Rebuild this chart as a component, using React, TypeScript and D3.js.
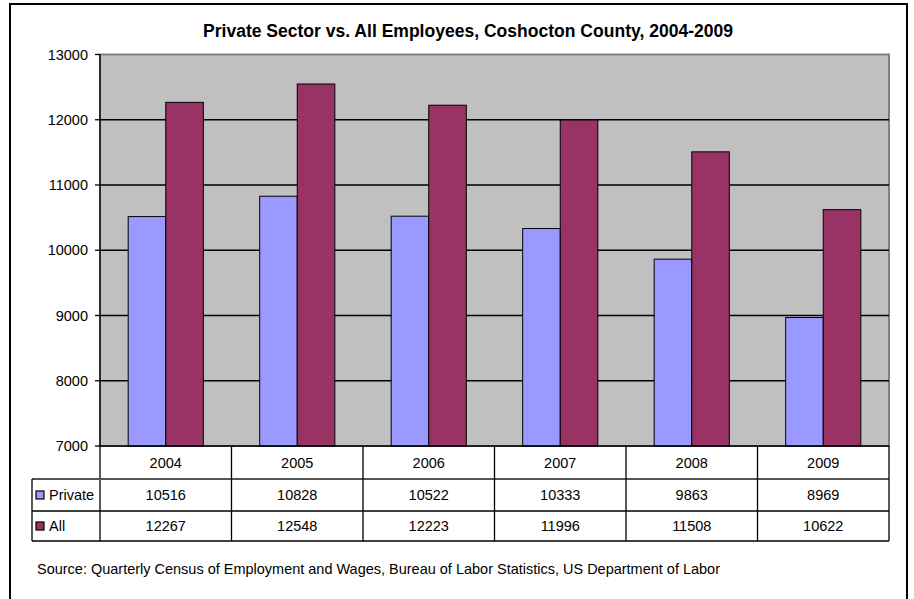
import React from "react";
import * as d3 from "d3";

const years = ["2004", "2005", "2006", "2007", "2008", "2009"];
const privateValues = [10516, 10828, 10522, 10333, 9863, 8969];
const allValues = [12267, 12548, 12223, 11996, 11508, 10622];
const yTicks = [7000, 8000, 9000, 10000, 11000, 12000, 13000];
const seriesNames = ["Private", "All"];
const seriesColors = ["#9999FF", "#993366"];
const title = "Private Sector vs. All Employees, Coshocton County, 2004-2009";
const source = "Source: Quarterly Census of Employment and Wages, Bureau of Labor Statistics, US Department of Labor";

const W = 914;
const H = 599;
const plotL = 100;
const plotR = 889;
const plotT = 54.5;
const plotB = 446;
const row1B = 479;
const row2B = 511;
const row3B = 541;
const tableL = 32;
const font = "'Liberation Sans', Arial, sans-serif";
const fs = 14.5;

export default function App() {
  const x = d3.scaleBand<string>().domain(years).range([plotL, plotR]).paddingInner(0).paddingOuter(0);
  const bw = x.bandwidth();
  const barW = bw / 3.5;
  const inner = d3
    .scaleBand<string>()
    .domain(seriesNames)
    .range([barW * 0.75, bw - barW * 0.75]);
  const y = d3.scaleLinear().domain([7000, 13000]).range([plotB, plotT]);
  const series = [privateValues, allValues];
  const rowCenters = [(row1B + row2B) / 2, (row2B + row3B) / 2];

  return (
    <svg width={W} height={H} style={{ position: "absolute", left: 0, top: 0 }} fontFamily={font}>
      <rect x={0} y={0} width={W} height={H} fill="#fff" />
      {/* outer border */}
      <rect x={10} y={4} width={897} height={620} fill="none" stroke="#000" strokeWidth={2} />
      <text x={203} y={36.5} textLength={530} lengthAdjust="spacingAndGlyphs" fontSize={18} fontWeight="bold" fill="#000">
        {title}
      </text>
      {/* plot area */}
      <rect x={plotL} y={plotT} width={plotR - plotL} height={plotB - plotT} fill="#C0C0C0" stroke="#808080" strokeWidth={2} />
      {yTicks.slice(1, -1).map((t) => (
        <line key={t} x1={plotL} x2={plotR} y1={y(t)} y2={y(t)} stroke="#000" strokeWidth={1.3} />
      ))}
      {/* bars */}
      {years.map((yr, i) => (
        <g key={yr}>
          {seriesNames.map((s, k) => (
            <rect
              key={s}
              x={(x(yr) as number) + (inner(s) as number)}
              y={y(series[k][i])}
              width={inner.bandwidth()}
              height={plotB - y(series[k][i])}
              fill={seriesColors[k]}
              stroke="#000"
              strokeWidth={1}
            />
          ))}
        </g>
      ))}
      {/* y axis */}
      <line x1={plotL} x2={plotL} y1={plotT} y2={row3B} stroke="#000" strokeWidth={1.3} />
      {yTicks.map((t) => (
        <g key={t}>
          <line x1={plotL - 5} x2={plotL} y1={y(t)} y2={y(t)} stroke="#000" strokeWidth={1.3} />
          <text x={88} y={y(t)} dy="0.36em" textAnchor="end" fontSize={fs} fill="#000">
            {t}
          </text>
        </g>
      ))}
      {/* data table */}
      <line x1={plotL} x2={plotR} y1={plotB} y2={plotB} stroke="#000" strokeWidth={1.3} />
      <line x1={tableL} x2={plotR} y1={row1B} y2={row1B} stroke="#555" strokeWidth={2} />
      <line x1={tableL} x2={plotR} y1={row2B} y2={row2B} stroke="#000" strokeWidth={1.3} />
      <line x1={tableL} x2={plotR} y1={row3B} y2={row3B} stroke="#000" strokeWidth={1.3} />
      <line x1={tableL} x2={tableL} y1={row1B} y2={row3B} stroke="#000" strokeWidth={1.3} />
      <line x1={plotR} x2={plotR} y1={plotB} y2={row3B} stroke="#000" strokeWidth={1.3} />
      {years.slice(1).map((yr) => (
        <line key={yr} x1={x(yr) as number} x2={x(yr) as number} y1={plotB} y2={row3B} stroke="#000" strokeWidth={1.3} />
      ))}
      {years.map((yr, i) => (
        <g key={yr}>
          <text x={(x(yr) as number) + bw / 2} y={(plotB + row1B) / 2} dy="0.36em" textAnchor="middle" fontSize={fs}>
            {yr}
          </text>
          {series.map((vals, k) => (
            <text key={k} x={(x(yr) as number) + bw / 2} y={rowCenters[k]} dy="0.36em" textAnchor="middle" fontSize={fs}>
              {vals[i]}
            </text>
          ))}
        </g>
      ))}
      {seriesNames.map((s, k) => (
        <g key={s}>
          <rect x={36} y={rowCenters[k] - 4} width={8} height={8} fill={seriesColors[k]} stroke="#000" strokeWidth={1.2} />
          <text x={49} y={rowCenters[k]} dy="0.36em" fontSize={fs}>
            {s}
          </text>
        </g>
      ))}
      <text x={37} y={574} textLength={683} lengthAdjust="spacingAndGlyphs" fontSize={15} fill="#000">
        {source}
      </text>
    </svg>
  );
}
